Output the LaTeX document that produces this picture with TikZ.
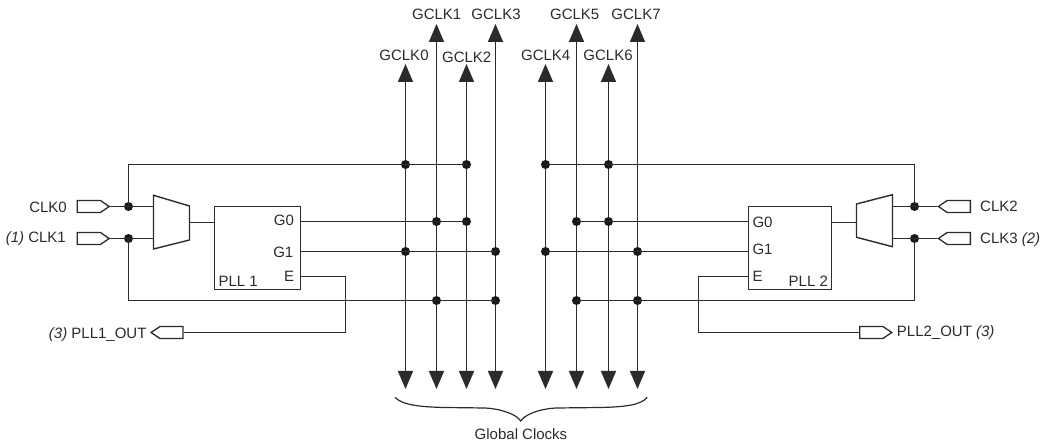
\documentclass[tikz,border=0pt]{standalone}
\usepackage{fontspec}
\setmainfont{Liberation Sans}
\usetikzlibrary{arrows.meta,shapes.symbols}
\definecolor{ink}{HTML}{2B2B2B}
\tikzset{
    wire/.style={draw=ink,line width=1.4pt},
    bus/.style={wire,{Triangle[length=18pt,width=15pt]}-{Triangle[length=18pt,width=15pt]}},
    dot/.style={circle,fill=black!90,inner sep=0pt,minimum size=9pt},
    pll/.style={draw=ink,line width=1.4pt,minimum height=83pt,inner sep=0pt},
    pinbox/.style={draw=ink,line width=1.3pt,signal,signal pointer angle=68,inner sep=0pt,minimum width=32pt,minimum height=12pt},
    lbl/.style={inner sep=0pt,text=ink,text height=10.8pt,text depth=0pt,font=\fontsize{15}{18}\selectfont},
}
\begin{document}
\begin{tikzpicture}[x=1pt,y=-1pt]
    \useasboundingbox (0,0) rectangle (1047,443);
    % clock lines
    \foreach \n/\xpos/\ytip/\xtext/\ytext in {0/405.5/64/404/55,1/436.5/24/436.7/14,2/466.5/64/466.7/57,3/495.5/24/496/14,
        4/545.5/64/545.7/55,5/576.5/24/574.7/14,6/608.5/64/608/55,7/637.5/24/636/14} {
        \coordinate (top\n) at (\xpos,\ytip);
        \coordinate (bot\n) at (\xpos,389);
        \draw[bus] (bot\n) -- (top\n);
        \node[lbl] (gclk\n) at (\xtext,\ytext) {GCLK\n};
    }
    % PLL blocks
    \node[pll,minimum width=86pt] (plla) at (257.5,248) {};
    \node[pll,minimum width=83pt] (pllb) at (790,248) {};
    \node[lbl,anchor=center] (gzeroa) at (284,220.5) {G0};
    \node[lbl,anchor=center] (gonea) at (283.3,252.5) {G1};
    \node[lbl,anchor=center] (ea) at (289,276.5) {E};
    \node[lbl,anchor=west] (namea) at (218.3,281) {PLL 1};
    \node[lbl,anchor=west] (gzerob) at (752.3,222.5) {G0};
    \node[lbl,anchor=west] (goneb) at (752.3,249.5) {G1};
    \node[lbl,anchor=west] (eb) at (752.3,276.5) {E};
    \node[lbl,anchor=center] (nameb) at (808.3,281) {PLL 2};
    % muxes
    \draw[wire,line join=miter] (153.5,195.3) -- (189.5,206) -- (189.5,240) -- (153.5,249) -- cycle;
    \draw[wire,line join=miter] (892.5,194.7) -- (856.5,204) -- (856.5,237.3) -- (892.5,246.7) -- cycle;
    \coordinate (muxaone) at (153.5,206.5);
    \coordinate (muxatwo) at (153.5,238.5);
    \coordinate (muxaout) at (189.5,222.5);
    \coordinate (muxbone) at (892.5,206.5);
    \coordinate (muxbtwo) at (892.5,238.5);
    \coordinate (muxbout) at (856.5,222.5);
    % pins
    \node[pinbox,signal to=east] (clka) at (88.8,206.5) {};
    \node[pinbox,signal to=east] (clkb) at (88.8,238.5) {};
    \node[pinbox,signal to=west] (clkc) at (958.8,206.5) {};
    \node[pinbox,signal to=west] (clkd) at (958.8,238.5) {};
    \node[pinbox,signal to=west] (outa) at (171.5,332.5) {};
    \node[pinbox,signal to=east] (outb) at (871.3,332.5) {};
    \node[lbl,anchor=east] (clkatext) at (67,207) {CLK0};
    \node[lbl,anchor=east] (clkbtext) at (66,237.5) {\textit{(1)} CLK1};
    \node[lbl,anchor=west] (clkctext) at (980,205.7) {CLK2};
    \node[lbl,anchor=west] (clkdtext) at (980,238) {CLK3 \textit{(2)}};
    \node[lbl,anchor=east] (outatext) at (146.7,333.5) {\textit{(3)} PLL1\_OUT};
    \node[lbl,anchor=west] (outbtext) at (896.7,331) {PLL2\_OUT \textit{(3)}};
    % junctions
    \foreach \n/\xpos/\ypos in {clka/128.5/206.5,clkb/128.5/238.5,clkc/914.5/206.5,clkd/914.5/238.5,
        ta/405.5/164.5,tb/466.5/164.5,tc/545.5/164.5,td/608.5/164.5,
        ga/436.5/221.5,gb/466.5/221.5,gc/576.5/221.5,gd/608.5/221.5,
        ha/405.5/251.5,hb/495.5/251.5,hc/545.5/251.5,hd/637.5/251.5,
        ba/436.5/300.5,bb/495.5/300.5,bc/576.5/300.5,bd/637.5/300.5} {
        \node[dot] (j\n) at (\xpos,\ypos) {};
    }
    % left side
    \draw[wire] (clka.east) -- (muxaone);
    \draw[wire] (clkb.east) -- (muxatwo);
    \draw[wire] (muxaout) -- (muxaout -| plla.west);
    \draw[wire] (jclka.center) |- (jtb.center);
    \draw[wire] (jclkb.center) |- (jbb.center);
    \draw[wire] (jga.center -| plla.east) -- (jgb.center);
    \draw[wire] (jha.center -| plla.east) -- (jhb.center);
    \coordinate (eaport) at (plla.east |- ea);
    \coordinate (eacorner) at (345.5,276.5);
    \draw[wire] (eaport) -- (eacorner) |- (outa.east);
    % right side
    \draw[wire] (clkc.west) -- (muxbone);
    \draw[wire] (clkd.west) -- (muxbtwo);
    \draw[wire] (muxbout) -- (muxbout -| pllb.east);
    \draw[wire] (jclkc.center) |- (jtc.center);
    \draw[wire] (jclkd.center) |- (jbc.center);
    \draw[wire] (jgc.center) -- (jgc.center -| pllb.west);
    \draw[wire] (jgd.center) -- (jgd.center -| pllb.west);
    \draw[wire] (jhc.center) -- (jhc.center -| pllb.west);
    \coordinate (ebport) at (pllb.west |- eb);
    \coordinate (ebcorner) at (698.5,276.5);
    \draw[wire] (ebport) -- (ebcorner) |- (outb.west);
    % brace
    \draw[draw=ink,line width=1.2pt] (395,397.3) .. controls (402,405) and (420,407) .. (445,407.5)
        -- (485,408) .. controls (503,409) and (517,415) .. (520.7,421)
        .. controls (524.5,415) and (538,409) .. (556,408)
        -- (600,407.5) .. controls (625,407) and (641,405) .. (647.3,397.3);
    \node[lbl] (global) at (521,434) {Global Clocks};
\end{tikzpicture}
\end{document}
